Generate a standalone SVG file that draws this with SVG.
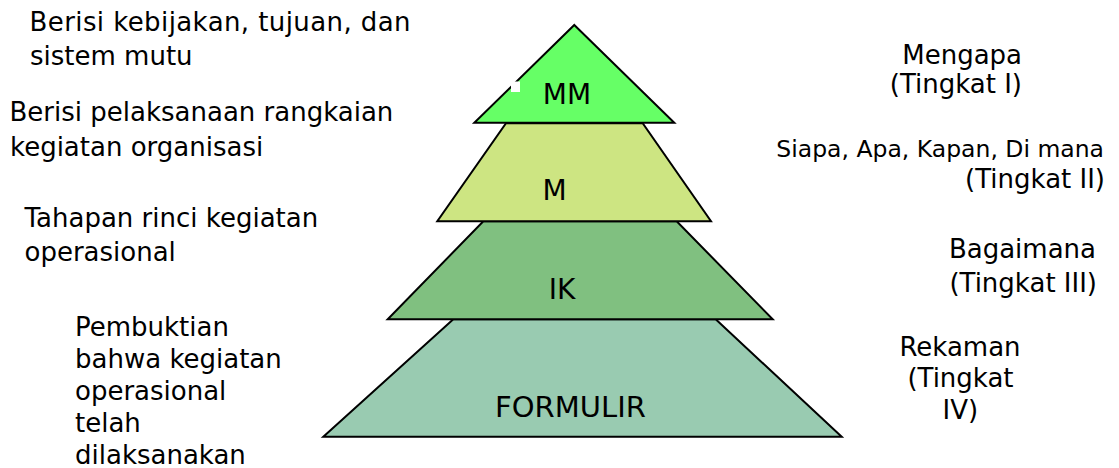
<svg xmlns="http://www.w3.org/2000/svg" width="1119" height="468" viewBox="0 0 1119 468">
<style>
  text { font-family: "DejaVu Sans", Verdana, sans-serif; fill: #000; }
  .lbl { font-size: 26px; }
  .small { font-size: 23.5px; }
  .lvl { font-size: 28px; text-anchor: middle; }
  .tier { stroke: #000; stroke-width: 2; stroke-linejoin: miter; }
</style>
<rect x="0" y="0" width="1119" height="468" fill="#fff"/>
<g id="tier-formulir">
  <polygon class="tier" points="453.3,319.3 715.7,319.3 841.7,436.7 323.3,436.7" fill="#99cbb1"/>
  <text class="lvl" x="570.5" y="417" style="font-size:29px">FORMULIR</text>
</g>
<g id="tier-ik">
  <polygon class="tier" points="483.3,221.3 676.7,221.3 772.7,319.3 387.7,319.3" fill="#80c080"/>
  <text class="lvl" x="562" y="299">IK</text>
</g>
<g id="tier-m">
  <polygon class="tier" points="506,123.3 642.7,123.3 711,221.3 437.3,221.3" fill="#cde582"/>
  <text class="lvl" x="554.5" y="200">M</text>
</g>
<g id="tier-mm">
  <polygon class="tier" points="574.3,25 674.3,122.7 474.3,122.7" fill="#66ff66"/>
  <rect x="511" y="81.5" width="9" height="10.5" fill="#fff"/>
  <text class="lvl" x="567" y="104">MM</text>
</g>
<g id="desc-left">
  <text class="lbl" x="29.5" y="31" textLength="381" lengthAdjust="spacing">Berisi kebijakan, tujuan, dan</text>
  <text class="lbl" x="30" y="65">sistem mutu</text>
  <text class="lbl" x="9.5" y="121">Berisi pelaksanaan rangkaian</text>
  <text class="lbl" x="10" y="155.5">kegiatan organisasi</text>
  <text class="lbl" x="24.5" y="227">Tahapan rinci kegiatan</text>
  <text class="lbl" x="24.5" y="261">operasional</text>
  <text class="lbl" x="75" y="336">Pembuktian</text>
  <text class="lbl" x="75" y="368">bahwa kegiatan</text>
  <text class="lbl" x="75" y="400">operasional</text>
  <text class="lbl" x="75" y="432">telah</text>
  <text class="lbl" x="75" y="463.5">dilaksanakan</text>
</g>
<g id="desc-right">
  <text class="lbl" x="1022" y="63.5" text-anchor="end">Mengapa</text>
  <text class="lbl" x="1022" y="93" text-anchor="end">(Tingkat I)</text>
  <text class="small" x="1104" y="157" text-anchor="end">Siapa, Apa, Kapan, Di mana</text>
  <text class="lbl" x="1105" y="188" text-anchor="end">(Tingkat II)</text>
  <text class="lbl" x="1096" y="257.5" text-anchor="end">Bagaimana</text>
  <text class="lbl" x="1097" y="291.5" text-anchor="end">(Tingkat III)</text>
  <text class="lbl" x="960" y="356" text-anchor="middle">Rekaman</text>
  <text class="lbl" x="960.5" y="387" text-anchor="middle">(Tingkat</text>
  <text class="lbl" x="960.3" y="418.5" text-anchor="middle">IV)</text>
</g>
</svg>
